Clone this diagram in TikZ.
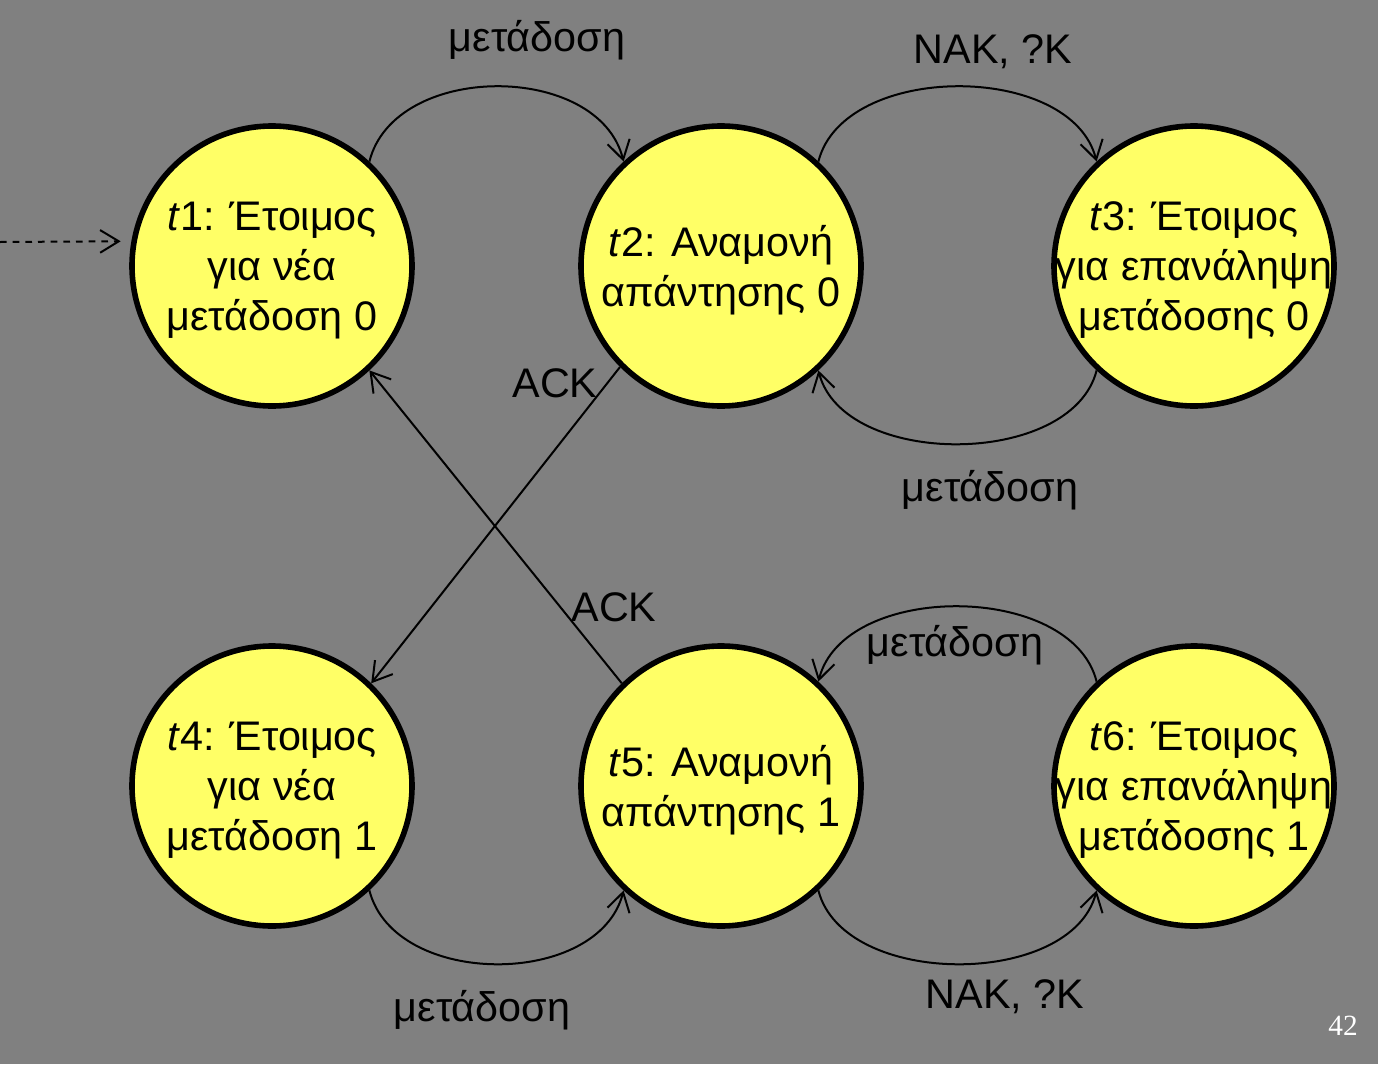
\documentclass[tikz,border=0pt]{standalone}
\usepackage{fontspec}
\setmainfont{Liberation Sans}
\newfontfamily\numfont{Liberation Serif}
\usetikzlibrary{arrows.meta}
\definecolor{slidegray}{HTML}{808080}
\definecolor{stateyellow}{HTML}{FFFF66}

\begin{document}
\begin{tikzpicture}[
  x=0.75pt, y=-0.75pt,
  font=\fontsize{31}{37.5}\selectfont,
  state/.style={circle, draw=black, fill=stateyellow, line width=4.2pt, minimum size=210pt, inner sep=0pt},
  statetext/.style={align=center, inner sep=0pt, yshift=-3.5pt},
  lbl/.style={inner sep=0pt},
  arrow/.style={-{Straight Barb[length=14pt, width=17pt]}, draw=black, line width=1.5pt}
]
\path[use as bounding box, fill=slidegray] (0,0) rectangle (1378,1064);
\node[state] (t1) at (272,266) {};
\node[state] (t2) at (721,266) {};
\node[state] (t3) at (1194,266) {};
\node[state] (t4) at (272,786) {};
\node[state] (t5) at (721,786) {};
\node[state] (t6) at (1194,786) {};
\node[statetext] (t1txt) at (t1) {\textit{t}1: Έτοιμος\\για νέα\\μετάδοση 0};
\node[statetext] (t2txt) at (t2) {\textit{t}2: Αναμονή\\απάντησης 0};
\node[statetext] (t3txt) at (t3) {\textit{t}3: Έτοιμος\\για επανάληψη\\μετάδοσης 0};
\node[statetext] (t4txt) at (t4) {\textit{t}4: Έτοιμος\\για νέα\\μετάδοση 1};
\node[statetext] (t5txt) at (t5) {\textit{t}5: Αναμονή\\απάντησης 1};
\node[statetext] (t6txt) at (t6) {\textit{t}6: Έτοιμος\\για επανάληψη\\μετάδοσης 1};
\coordinate (init) at (0,242);
\draw[arrow, dash pattern=on 5pt off 4.5pt, shorten >=8pt] (init) -- (t1.170);
\draw[arrow] (t1.47) .. controls +(25,-100) and +(-25,-100) .. (t2.133);
\draw[arrow] (t2.47) .. controls +(25,-100) and +(-25,-100) .. (t3.133);
\draw[arrow] (t3.227) .. controls +(-25,98) and +(25,98) .. (t2.313);
\draw[arrow] (t4.313) .. controls +(25,98) and +(-25,98) .. (t5.227);
\draw[arrow] (t5.313) .. controls +(25,98) and +(-25,98) .. (t6.227);
\draw[arrow] (t6.133) .. controls +(-25,-100) and +(25,-100) .. (t5.47);
\draw[arrow] (t2.225) -- (t4.46);
\draw[arrow] (t5.134) -- (t1.313);
\node[lbl] (send0) at (537,40) {μετάδοση};
\node[lbl] (nak0) at (993,52) {NAK, ?K};
\node[lbl] (resend0) at (990,490) {μετάδοση};
\node[lbl] (ack0) at (555,383) {ACK};
\node[lbl] (ack1) at (614,607) {ACK};
\node[lbl] (resend1) at (955,645) {μετάδοση};
\node[lbl] (send1) at (482,1010) {μετάδοση};
\node[lbl] (nak1) at (1005,997) {NAK, ?K};
\node[lbl, text=white, font=\numfont\fontsize{22}{26}\selectfont] (pagenum) at (1343,1026) {42};
\end{tikzpicture}
\end{document}
